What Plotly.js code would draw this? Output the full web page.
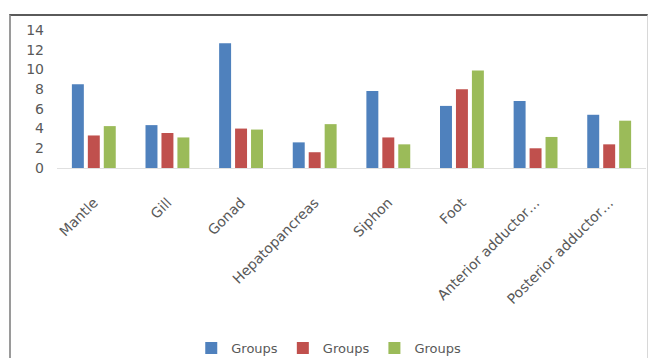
<!DOCTYPE html>
<html>
<head>
<meta charset="utf-8">
<script src="https://cdn.plot.ly/plotly-3.0.1.min.js"></script>
<style>
html,body{margin:0;padding:0;background:#fff;}
#frame{position:absolute;left:9px;top:14px;width:636px;height:350px;border-top:2px solid #5a5a5a;border-left:2px solid #9a9a9a;border-right:1px solid #d8d8d8;}
#chart{position:absolute;left:0;top:0;width:651px;height:358px;}
</style>
</head>
<body>
<div id="frame"></div>
<div id="chart"></div>
<script>
const categories = ["Mantle", "Gill", "Gonad", "Hepatopancreas", "Siphon", "Foot", "Anterior adductor…", "Posterior adductor…"];
const seriesNames = ["Groups", "Groups", "Groups"];
const series1 = [8.5, 4.35, 12.65, 2.6, 7.8, 6.3, 6.8, 5.4];
const series2 = [3.3, 3.55, 4.0, 1.6, 3.1, 8.0, 2.0, 2.4];
const series3 = [4.25, 3.1, 3.9, 4.45, 2.4, 9.9, 3.15, 4.8];
const yTicks = [0, 2, 4, 6, 8, 10, 12, 14];

const colors = ["#4F81BD", "#C0504D", "#9BBB59"];
const allSeries = [series1, series2, series3];
const traces = allSeries.map((vals, i) => ({
  type: "bar",
  x: categories,
  y: vals,
  name: seriesNames[i],
  marker: {color: colors[i]},
  hoverinfo: "none"
}));

const layout = {
  width: 651, height: 358,
  margin: {l: 57, r: 5, t: 30, b: 190},
  paper_bgcolor: "rgba(0,0,0,0)",
  plot_bgcolor: "rgba(0,0,0,0)",
  barmode: "group",
  bargap: 0.35,
  bargroupgap: 0.25,
  font: {family: "DejaVu Sans, Arial, sans-serif", color: "#595959"},
  showlegend: true,
  legend: {
    orientation: "h",
    xref: "container", yref: "container",
    x: 0.505, xanchor: "center",
    y: 0.028, yanchor: "middle",
    font: {size: 13, color: "#595959"},
    itemwidth: 30,
    traceorder: "normal"
  },
  xaxis: {
    type: "category",
    tickangle: -45,
    tickfont: {size: 14, color: "#595959"},
    showline: true, linecolor: "#e0e0e0", linewidth: 1,
    ticks: "", showgrid: false, zeroline: false,
    automargin: false,
    ticklabelstandoff: 20
  },
  yaxis: {
    range: [0, 14],
    tickvals: yTicks,
    ticktext: yTicks.map(String),
    tickfont: {size: 14, color: "#595959"},
    showgrid: false, zeroline: false, showline: false,
    ticks: "",
    automargin: false,
    ticklabelstandoff: 12
  }
};

Plotly.newPlot("chart", traces, layout, {displayModeBar: false, staticPlot: true});
</script>
</body>
</html>
